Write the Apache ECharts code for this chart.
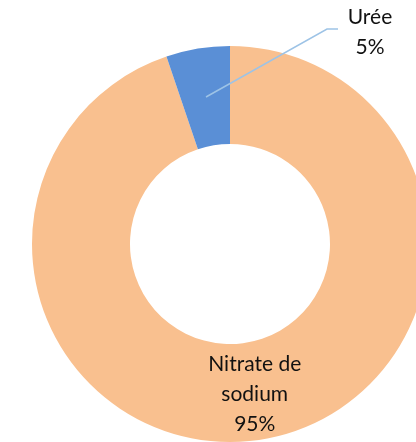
<!DOCTYPE html>
<html>
<head>
<meta charset="utf-8">
<script src="https://cdn.jsdelivr.net/npm/echarts@6/dist/echarts.min.js"></script>
<style>html,body{margin:0;padding:0;background:#fff}#c{width:416px;height:442px}</style>
</head>
<body>
<div id="c"></div>
<script>
const categories = ['Nitrate de sodium', 'Urée'];
const labelNames = ['Nitrate de\nsodium', 'Urée'];
const values = [94.8, 5.2];
const colors = ['#F9C08F', '#5A8FD6'];

const chart = echarts.init(document.getElementById('c'), null, {renderer: 'canvas'});
const font = {fontFamily: 'Lato', fontSize: 21, color: '#111', lineHeight: 30};
const fmt = i => p => labelNames[i] + '\n' + Math.round(p.percent) + '%';
const base = {
  type: 'pie',
  center: [230, 244],
  radius: [100, 198],
  startAngle: 90,
  clockwise: true,
  avoidLabelOverlap: false,
  emphasis: {disabled: true}
};
chart.setOption({
  animation: false,
  series: [
    Object.assign({}, base, {
      z: 2,
      data: categories.map((c, i) => ({
        name: c,
        value: values[i],
        itemStyle: {color: colors[i]},
        label: i === 0
          ? Object.assign({show: true, position: 'inside', formatter: fmt(0)}, font)
          : {show: false},
        labelLine: {show: false}
      }))
    }),
    Object.assign({}, base, {
      z: 5,
      silent: true,
      data: categories.map((c, i) => ({
        name: c,
        value: values[i],
        itemStyle: {color: 'rgba(0,0,0,0)'},
        label: i === 1
          ? Object.assign({show: true, position: 'outside', formatter: fmt(1)}, font)
          : {show: false},
        labelLine: i === 1 ? {show: true, lineStyle: {color: '#9DC3E6', width: 1.5}} : {show: false}
      })),
      labelLayout: function (p) {
        if (p.dataIndex === 1) {
          return {
            x: 370, y: 32, align: 'center', verticalAlign: 'middle',
            labelLinePoints: [[206, 97], [327, 29], [338, 29]]
          };
        }
        return {};
      }
    })
  ]
});
</script>
</body>
</html>
